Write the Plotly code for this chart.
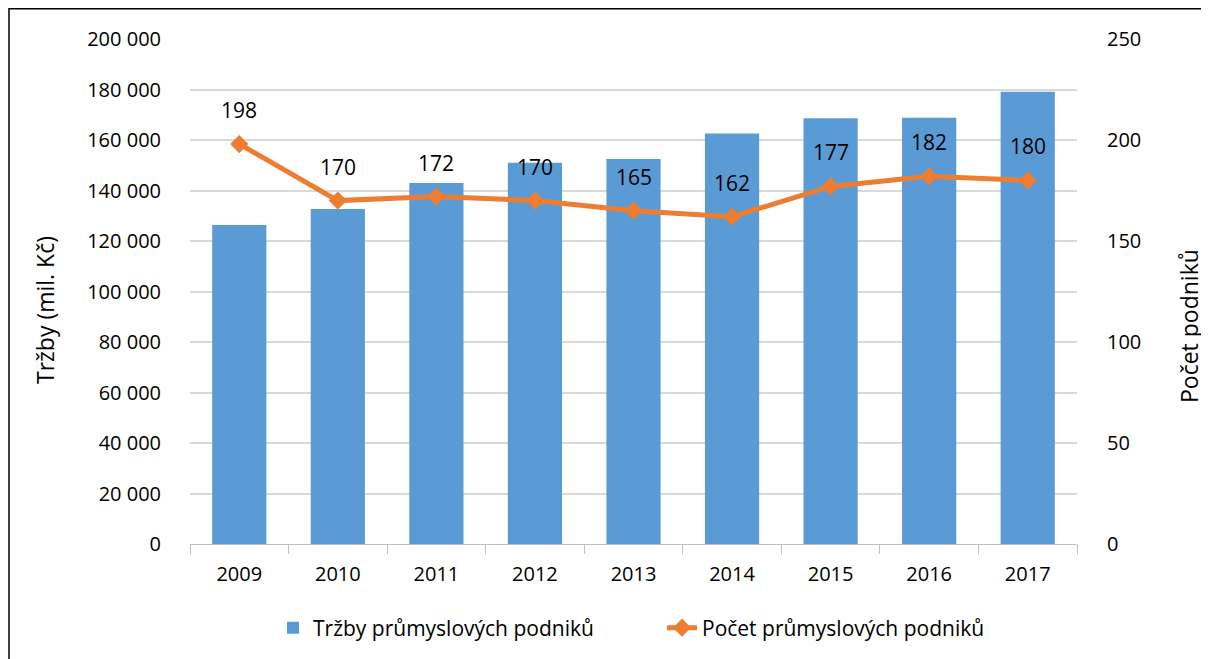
import plotly.graph_objects as go

years = ["2009", "2010", "2011", "2012", "2013", "2014", "2015", "2016", "2017"]
trzby = [126300, 132700, 143000, 151000, 152500, 162600, 168600, 168800, 179100]
pocet = [198, 170, 172, 170, 165, 162, 177, 182, 180]
left_ticks = list(range(0, 200001, 20000))
left_ticktext = ["{:,}".format(v).replace(",", " ") for v in left_ticks]

FONT = "Open Sans"
BLUE = "#5B9BD5"
ORANGE = "#ED7D31"

W, H = 1209, 659
L, R, T, B = 182, 140, 31, 123
PW, PH = W - L - R, H - T - B


def px(xf):
    return (xf - L) / PW


def py(yf):
    return (H - B - yf) / PH


fig = go.Figure()
fig.add_trace(go.Bar(
    x=years, y=trzby, name="Tržby průmyslových podniků",
    marker=dict(color=BLUE, line=dict(width=0)),
))
fig.add_trace(go.Scatter(
    x=years, y=pocet, name="Počet průmyslových podniků", yaxis="y2",
    mode="lines+markers",
    line=dict(color=ORANGE, width=5),
    marker=dict(symbol="diamond", size=14, color=ORANGE),
))
for i, v in enumerate(pocet):
    fig.add_annotation(x=i, y=v, xref="x", yref="y2", text=str(v), showarrow=False,
                       yshift=34, font=dict(family=FONT, size=21, color="#000"))

# axis titles
fig.add_annotation(x=px(37), y=py(302), xref="paper", yref="paper", text="Tržby (mil. Kč)",
                   textangle=-90, showarrow=False, xanchor="center", yanchor="middle",
                   font=dict(family=FONT, size=23, color="#000"))
fig.add_annotation(x=px(1181), y=py(318), xref="paper", yref="paper", text="Počet podniků",
                   textangle=-90, showarrow=False, xanchor="center", yanchor="middle",
                   font=dict(family=FONT, size=23, color="#000"))

fig.update_layout(
    width=W, height=H,
    margin=dict(l=L, r=R, t=T, b=B),
    paper_bgcolor="white", plot_bgcolor="white",
    font=dict(family=FONT, size=20, color="#000"),
    bargap=0.45,
    showlegend=True,
    legend=dict(orientation="h", x=px(265), y=py(620), xanchor="left", yanchor="middle",
                font=dict(family=FONT, size=21), traceorder="normal",
                entrywidth=344, entrywidthmode="pixels"),
    xaxis=dict(
        type="category", categoryorder="array", categoryarray=years,
        range=[-0.5, len(years) - 0.5],
        showgrid=False, showline=True, linecolor="#BFBFBF", linewidth=1,
        ticks="outside", tickson="boundaries", ticklen=9, tickcolor="#BFBFBF",
        tickfont=dict(size=20), tickangle=0, ticklabelstandoff=12,
    ),
    yaxis=dict(
        range=[0, 200000], tickvals=left_ticks, ticktext=left_ticktext,
        showgrid=True, gridcolor="#D9D9D9", gridwidth=1.5, zeroline=False,
        showline=False, ticklabelstandoff=28, tickfont=dict(size=20),
    ),
    yaxis2=dict(
        range=[0, 250], dtick=50, overlaying="y", side="right",
        showgrid=False, zeroline=False, showline=False,
        ticklabelstandoff=29, tickfont=dict(size=20),
    ),
)

fig.add_shape(type="rect", xref="paper", yref="paper",
              x0=px(1), x1=px(W + 10),
              y0=py(H + 10), y1=py(0.75),
              line=dict(color="#000", width=1.5), fillcolor="rgba(0,0,0,0)", layer="below")

fig.write_html("out.html")
